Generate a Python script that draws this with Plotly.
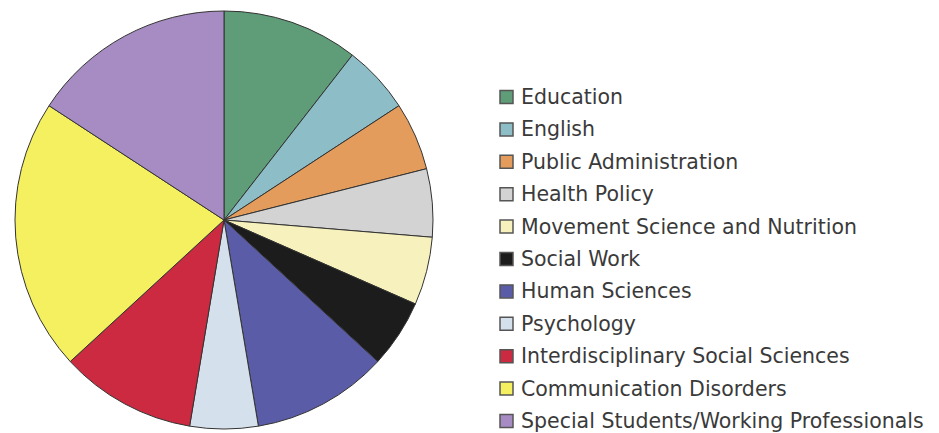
import plotly.graph_objects as go

categories = ["Education", "English", "Public Administration", "Health Policy",
              "Movement Science and Nutrition", "Social Work", "Human Sciences",
              "Psychology", "Interdisciplinary Social Sciences",
              "Communication Disorders", "Special Students/Working Professionals"]
values = [6, 3, 3, 3, 3, 3, 6, 3, 6, 12, 9]
colors = ["#5f9c78", "#8dbdc6", "#e39c5c", "#d3d3d3", "#f7f2bd", "#1c1c1c",
          "#5b5ca8", "#d4e0ec", "#cc2a40", "#f4f060", "#a78cc3"]

# page has an 8px body margin; figure is sized to fit the window
OFF = 8
W, H = 939 - OFF, 433 - OFF


def px(x):
    return (x - OFF) / W


def py(y):
    return 1 - (y - OFF) / H


cx, cy, r = 224, 220, 209

fig = go.Figure(go.Pie(
    labels=categories, values=values, sort=False, direction="clockwise",
    rotation=0, textinfo="none", hoverinfo="label+value",
    marker=dict(colors=colors, line=dict(color="#333333", width=1)),
    domain=dict(x=[px(cx - r), px(cx + r)], y=[py(cy + r), py(cy - r)]),
    showlegend=False,
))

# legend drawn from the category list
y0, dy = 97, 32.4
shapes, annots = [], []
for i, (cat, col) in enumerate(zip(categories, colors)):
    yc = y0 + i * dy
    shapes.append(dict(type="rect", xref="paper", yref="paper",
                       x0=px(500), x1=px(513),
                       y0=py(yc + 6.5), y1=py(yc - 6.5),
                       fillcolor=col, line=dict(color="#555555", width=1.5)))
    annots.append(dict(xref="paper", yref="paper", x=px(519), y=py(yc),
                       xanchor="left", yanchor="middle", showarrow=False,
                       text=cat, font=dict(family="DejaVu Sans", size=20.5, color="#3a3a3a")))

fig.update_layout(width=W, height=H, margin=dict(l=0, r=0, t=0, b=0),
                  paper_bgcolor="white", plot_bgcolor="white",
                  shapes=shapes, annotations=annots)

fig.write_html("out.html")
